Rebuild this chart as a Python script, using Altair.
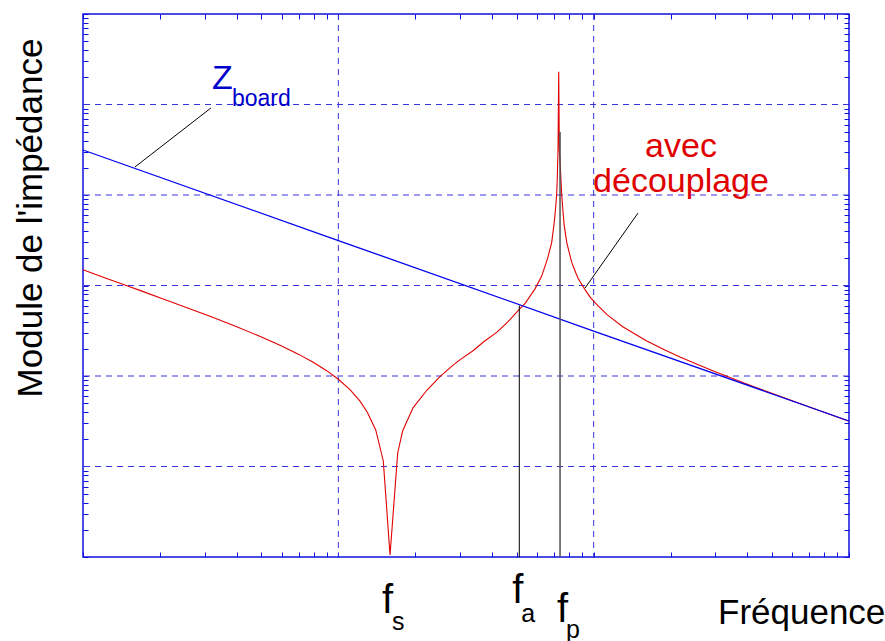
import altair as alt
import pandas as pd

# ---- data (frequency in Hz, impedance in ohm) ----
freq_red = [1.00e5, 1.20e5, 1.45e5, 1.70e5, 2.10e5, 2.60e5, 3.20e5, 4.00e5,
            5.00e5, 6.00e5, 7.00e5, 8.00e5, 9.00e5, 1.000e6, 1.111e6, 1.216e6,
            1.300e6, 1.401e6, 1.500e6, 1.594e6, 1.708e6, 1.787e6, 1.961e6,
            2.225e6, 2.500e6, 2.800e6, 3.000e6, 3.369e6, 3.700e6, 4.182e6,
            4.600e6, 5.114e6, 5.400e6, 5.900e6, 6.259e6, 6.600e6, 6.850e6,
            7.000e6, 7.100e6, 7.166e6, 7.200e6, 7.250e6, 7.297e6, 7.336e6,
            7.400e6, 7.496e6, 7.653e6, 7.842e6, 8.204e6, 8.500e6, 8.706e6,
            9.250e6, 9.700e6, 1.012e7, 1.125e7, 1.300e7, 1.614e7, 1.900e7,
            2.178e7, 2.500e7, 2.942e7, 3.400e7, 3.977e7, 4.600e7, 5.369e7,
            7.000e7, 1.000e8]
z_red = [1.489, 1.234, 1.019, 0.8664, 0.6974, 0.5582, 0.4475, 0.3499,
         0.2698, 0.2145, 0.1733, 0.1410, 0.1145, 0.0920, 0.0706, 0.0527,
         0.0396, 0.02532, 0.01151, 0.001052, 0.01410, 0.02487, 0.0445,
         0.0700, 0.0985, 0.1300, 0.1518, 0.1900, 0.2377, 0.3050,
         0.3930, 0.5450, 0.6380, 0.9240, 1.270, 1.995, 3.000,
         4.830, 7.320, 10.44, 14.75, 31.42, 230.3, 31.42,
         21.50, 10.00, 4.800, 3.000, 1.800, 1.394, 1.190,
         0.900, 0.740, 0.645, 0.480, 0.350, 0.2434, 0.1933,
         0.1622, 0.1373, 0.1138, 0.0969, 0.0818, 0.0702, 0.0597,
         0.0455, 0.03170]

freq_board = [1e5, 1e6, 1e7, 1e8]
z_board = [31.42, 3.14, 0.314, 0.03183]

f_s = 1.594e6
f_a = 5.114e6
f_p = 7.384e6
z_fa_top = 0.60
z_fp_top = 49.7

lead_board_f = [1.598e5, 3.17e5]
lead_board_z = [20.4, 91.5]
lead_dec_f = [9.25e6, 1.492e7]
lead_dec_z = [0.937, 6.32]

x_grid = [1e6, 1e7]
y_grid = [1e-2, 1e-1, 1.0, 10.0, 100.0]
x_decades = [1e5, 1e6, 1e7]
y_decades = [1e-3, 1e-2, 1e-1, 1.0, 10.0, 100.0]
multipliers = [1, 2, 3, 4, 5, 6, 7, 8, 9]

x_ticks = [m * d for d in x_decades for m in multipliers] + [1e8]
y_ticks = [m * d for d in y_decades for m in multipliers] + [1e3]

# ---- style ----
W, H = 766, 543
BLUE = "#1010E0"
GRID = "#3535E0"
RED = "#E00000"
FONT = "Liberation Sans"

xs = alt.Scale(type="log", domain=[1e5, 1e8], nice=False)
ys = alt.Scale(type="log", domain=[1e-3, 1e3], nice=False)


def tick_axis(orient, values):
    return alt.Axis(orient=orient, values=values, domain=False, labels=False,
                    grid=False, ticks=True, tickSize=5, tickColor=BLUE,
                    tickWidth=1, offset=-5, title=None)


red_df = pd.DataFrame({"f": freq_red, "z": z_red})
board_df = pd.DataFrame({"f": freq_board, "z": z_board})

grid_x = alt.Chart(pd.DataFrame({"f": x_grid})).mark_rule(
    color=GRID, strokeDash=[6, 5], strokeWidth=1
).encode(x=alt.X("f:Q", scale=xs, axis=None))

grid_y = alt.Chart(pd.DataFrame({"z": y_grid})).mark_rule(
    color=GRID, strokeDash=[6, 5], strokeWidth=1
).encode(y=alt.Y("z:Q", scale=ys, axis=None))

red_line = alt.Chart(red_df).mark_line(color=RED, strokeWidth=1.1).encode(
    x=alt.X("f:Q", scale=xs, axis=tick_axis("bottom", x_ticks)),
    y=alt.Y("z:Q", scale=ys, axis=tick_axis("left", y_ticks)),
)

board_line = alt.Chart(board_df).mark_line(color="#0000EE", strokeWidth=1.3).encode(
    x=alt.X("f:Q", scale=xs, axis=tick_axis("top", x_ticks)),
    y=alt.Y("z:Q", scale=ys, axis=tick_axis("right", y_ticks)),
)

fa_rule = alt.Chart(pd.DataFrame({"f": [f_a], "z": [z_fa_top], "zb": [1e-3]})).mark_rule(
    color="black", strokeWidth=1
).encode(x=alt.X("f:Q", scale=xs, axis=None), y=alt.Y("z:Q", scale=ys, axis=None), y2="zb:Q")

fp_rule = alt.Chart(pd.DataFrame({"f": [f_p], "z": [z_fp_top], "zb": [1e-3]})).mark_rule(
    color="#505050", strokeWidth=1.5
).encode(x=alt.X("f:Q", scale=xs, axis=None), y=alt.Y("z:Q", scale=ys, axis=None), y2="zb:Q")

lead_board = alt.Chart(pd.DataFrame({"f": lead_board_f, "z": lead_board_z})).mark_line(
    color="black", strokeWidth=1
).encode(x=alt.X("f:Q", scale=xs, axis=None), y=alt.Y("z:Q", scale=ys, axis=None))

lead_dec = alt.Chart(pd.DataFrame({"f": lead_dec_f, "z": lead_dec_z})).mark_line(
    color="black", strokeWidth=1
).encode(x=alt.X("f:Q", scale=xs, axis=None), y=alt.Y("z:Q", scale=ys, axis=None))


def text_px(txt, x, y, size, color, align="left", angle=0, line_height=None):
    kw = {}
    if line_height is not None:
        kw = {"lineBreak": "\n", "lineHeight": line_height}
    return alt.Chart(pd.DataFrame({"t": [txt]})).mark_text(
        align=align, baseline="alphabetic", fontSize=size, color=color,
        font=FONT, angle=angle, **kw
    ).encode(x=alt.value(x), y=alt.value(y), text="t:N")


def text_f(txt, fval, dx, y, size):
    return alt.Chart(pd.DataFrame({"f": [fval], "t": [txt]})).mark_text(
        align="left", baseline="alphabetic", fontSize=size, color="black",
        font=FONT, dx=dx
    ).encode(x=alt.X("f:Q", scale=xs, axis=None), y=alt.value(y), text="t:N")


texts = [
    text_px("Z", 129, 75, 34, "#0000CC"),
    text_px("board", 149, 92, 23, "#0000CC"),
    text_px("avec\ndécouplage", 598, 143, 34, RED, align="center", line_height=35),
    text_px("Module de l'impédance", -41, 204, 35, "black", align="center", angle=270),
    text_px("Fréquence", 635, 610, 35, "black"),
    text_f("f", f_s, -8, 599, 40),
    text_f("s", f_s, 2, 616, 25),
    text_f("f", f_a, -7, 589, 40),
    text_f("a", f_a, 2, 608, 25),
    text_f("f", f_p, -3, 608, 40),
    text_f("p", f_p, 6, 624, 25),
]

chart = alt.layer(
    grid_x, grid_y, red_line, board_line, fa_rule, fp_rule, lead_board, lead_dec, *texts
).resolve_axis(x="independent", y="independent").properties(
    width=W, height=H,
    padding={"left": 83, "top": 14, "right": 36, "bottom": 84},
    autosize=alt.AutoSizeParams(type="none"),
    background="white",
).configure_view(stroke=BLUE, strokeWidth=1.5)

chart.save("out.html", embed_options={"renderer": "svg", "actions": False})
